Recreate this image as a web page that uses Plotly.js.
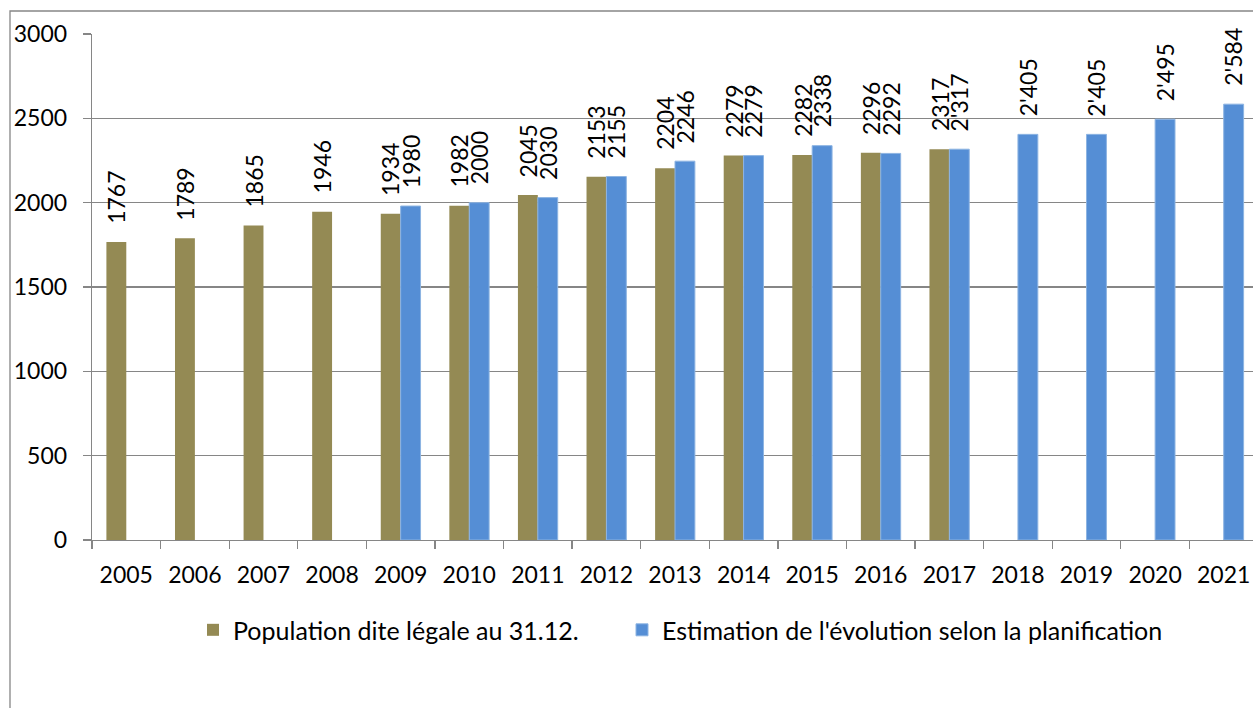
<!DOCTYPE html>
<html>
<head>
<meta charset="utf-8">
<script src="https://cdn.plot.ly/plotly-3.0.1.min.js"></script>
<style>
html,body{margin:0;padding:0;overflow:hidden;background:#fff;}
#chart{width:1260px;height:708px;}
</style>
</head>
<body>
<div id="chart"></div>
<script>
var years = ['2005','2006','2007','2008','2009','2010','2011','2012','2013','2014','2015','2016','2017','2018','2019','2020','2021'];
var populationLegale = [1767,1789,1865,1946,1934,1982,2045,2153,2204,2279,2282,2296,2317,null,null,null,null];
var estimation = [null,null,null,null,1980,2000,2030,2155,2246,2279,2338,2292,2317,2405,2405,2495,2584];
var populationLabels = ['1767','1789','1865','1946','1934','1982','2045','2153','2204','2279','2282','2296','2317','','','',''];
var estimationLabels = ['','','','','1980','2000','2030','2155','2246','2279','2338','2292',"2'317","2'405","2'405","2'495","2'584"];
var seriesNames = ['Population dite légale au 31.12.', "Estimation de l'évolution selon la planification"];

var FONT = 'Lato, "Open Sans", sans-serif';
var GRAY = '#868686';
var bargap = 0.42;
var half = (1 - bargap) / 4; // center offset of each bar in a 2-bar group

var traces = [
  {type:'bar', x:years, y:populationLegale, name:seriesNames[0], legend:'legend',
   marker:{color:'#948A54'}, hoverinfo:'x+y'},
  {type:'bar', x:years, y:estimation, name:seriesNames[1], legend:'legend2',
   marker:{color:'#558ED5', line:{color:'#8DB4E2', width:1}}, hoverinfo:'x+y'}
];

var annotations = [];
function addLabels(vals, labels, off){
  for (var i = 0; i < vals.length; i++){
    if (vals[i] === null || !labels[i]) continue;
    annotations.push({
      xref:'x', yref:'y', x:i + off, y:vals[i],
      text:labels[i], showarrow:false, textangle:-90,
      xanchor:'center', yanchor:'bottom', yshift:17,
      font:{family:FONT, size:23, color:'#000'}, borderpad:0
    });
  }
}
addLabels(populationLegale, populationLabels, -half);
addLabels(estimation, estimationLabels, half);

var legendFont = {family:FONT, size:25, color:'#000'};
var layout = {
  width:1260, height:708,
  margin:{l:92, r:2, t:34, b:168},
  paper_bgcolor:'#fff', plot_bgcolor:'#fff',
  barmode:'group', bargap:bargap, bargroupgap:0,
  font:{family:FONT, size:23, color:'#000'},
  showlegend:true,
  legend:{orientation:'h', x:(193-92)/1166, xanchor:'left', y:-0.178, yanchor:'middle',
          font:legendFont, bgcolor:'rgba(0,0,0,0)'},
  legend2:{orientation:'h', x:(622-92)/1166, xanchor:'left', y:-0.178, yanchor:'middle',
          font:legendFont, bgcolor:'rgba(0,0,0,0)'},
  xaxis:{type:'category', range:[-0.5,16.5], showgrid:false, showline:true,
         linecolor:GRAY, linewidth:1.3, ticks:'outside', tickson:'boundaries',
         ticklen:8, tickcolor:GRAY, tickwidth:1.3, ticklabelstandoff:14,
         tickfont:{family:FONT, size:23, color:'#000'}, fixedrange:true},
  yaxis:{range:[0,3000], dtick:500, tick0:0, showgrid:true, gridcolor:GRAY, gridwidth:1.3,
         showline:true, linecolor:GRAY, linewidth:1.3, ticks:'outside', ticklen:8,
         tickcolor:GRAY, tickwidth:1.3, zeroline:false, ticklabelstandoff:11,
         tickfont:{family:FONT, size:23, color:'#000'}, fixedrange:true},
  annotations:annotations,
  shapes:[{type:'rect', xref:'paper', yref:'paper',
           x0:(10-92)/1166, x1:1.5, y0:-0.5, y1:(540-11)/506,
           line:{color:GRAY, width:1.3}, fillcolor:'rgba(0,0,0,0)', layer:'below'}]
};

Plotly.newPlot('chart', traces, layout, {displayModeBar:false, staticPlot:true});
</script>
</body>
</html>
